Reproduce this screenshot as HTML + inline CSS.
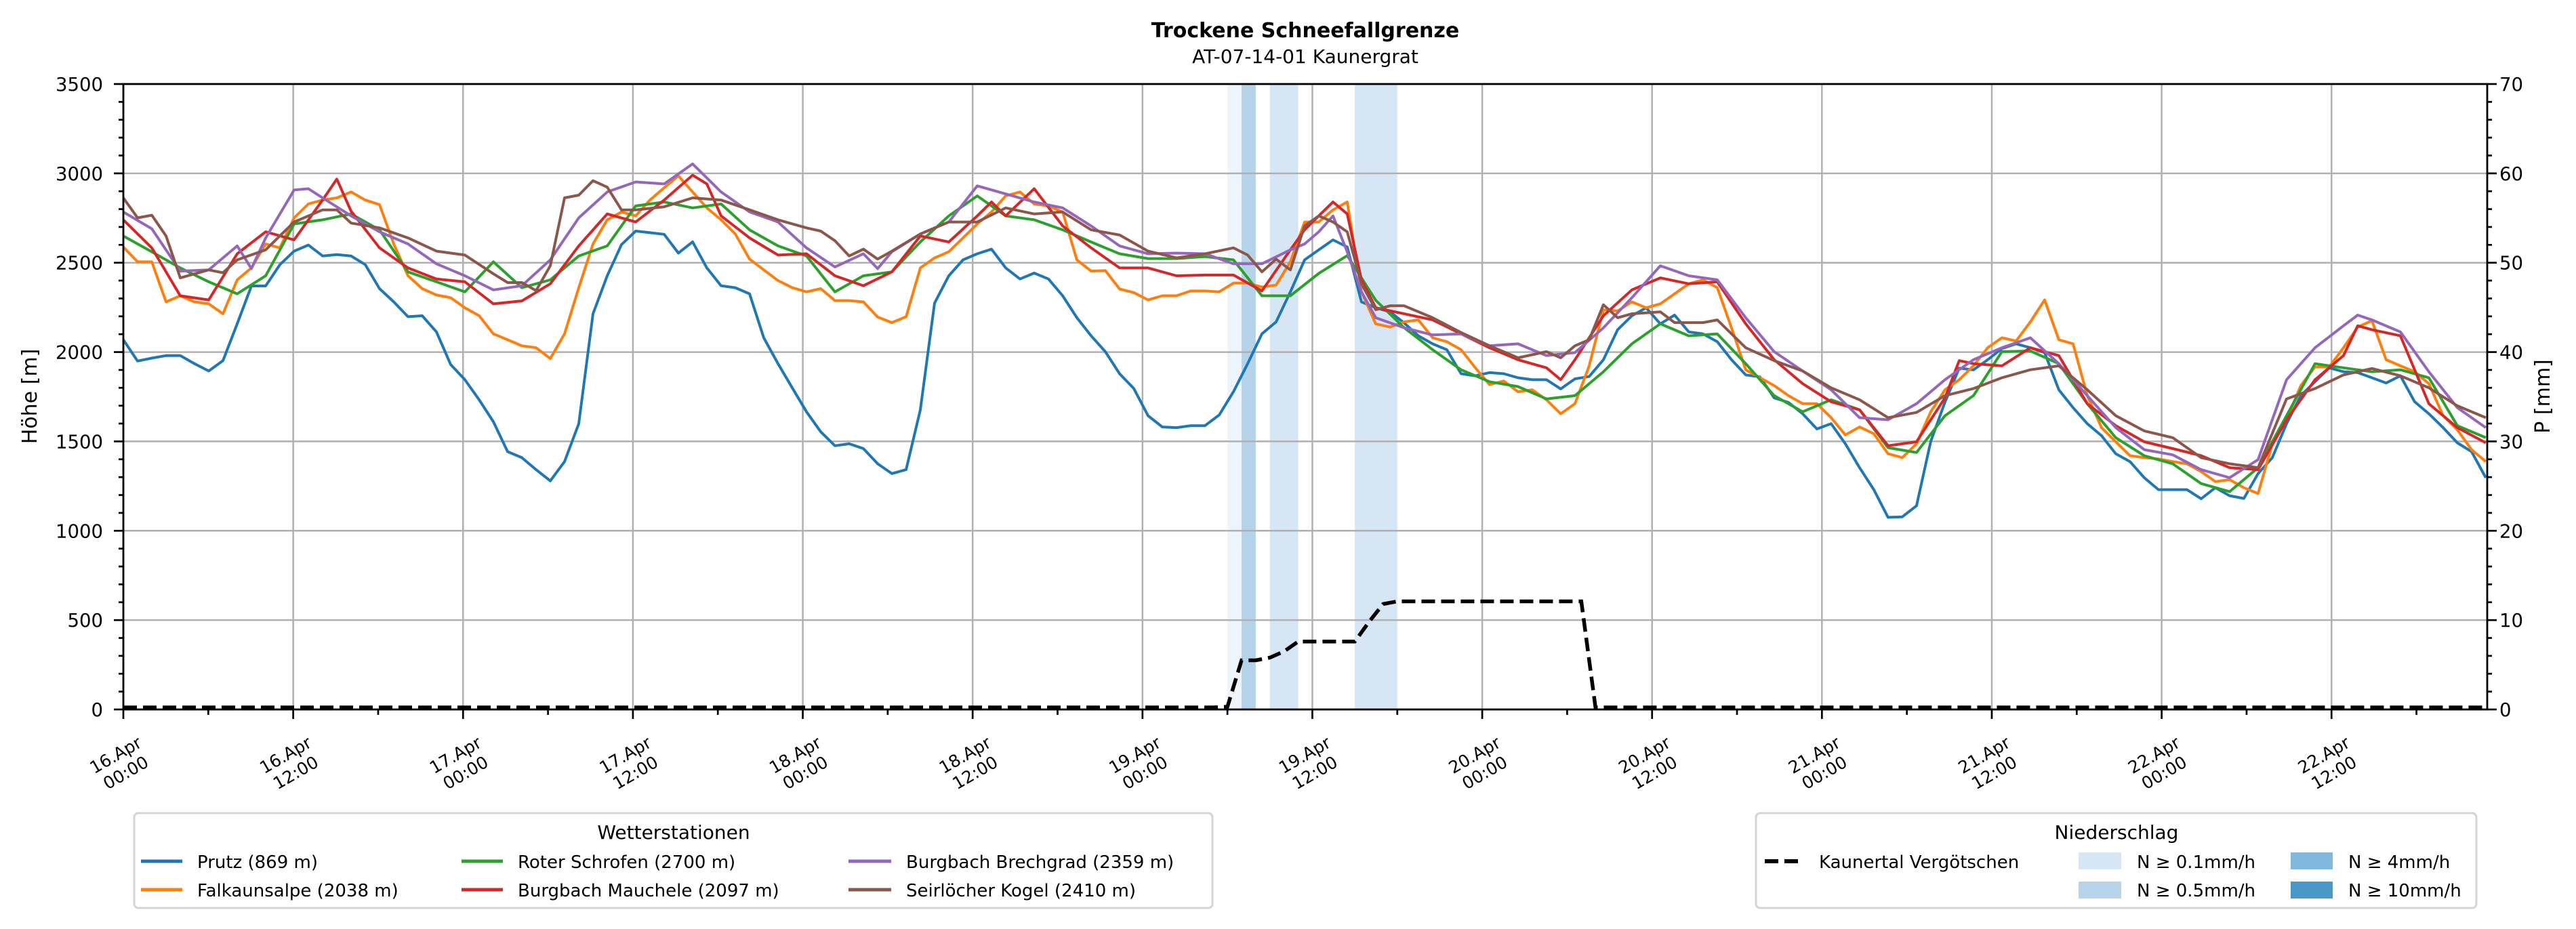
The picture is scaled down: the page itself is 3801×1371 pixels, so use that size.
<!DOCTYPE html>
<html><head><meta charset="utf-8">
<style>
html,body{margin:0;padding:0;background:#fff;}
svg{display:block;font-family:"DejaVu Sans","Liberation Sans",sans-serif;}
</style></head>
<body>
<svg id="chart" xmlns="http://www.w3.org/2000/svg" width="3801" height="1371" viewBox="0 0 3801 1371">
<rect x="0" y="0" width="3801" height="1371" fill="#fff"/>
<text x="1926" y="55" text-anchor="middle" font-size="30" font-weight="bold">Trockene Schneefallgrenze</text>
<text x="1926" y="93" text-anchor="middle" font-size="28">AT-07-14-01 Kaunergrat</text>
<g id="bands"></g>
<g id="grid"></g>
<g id="series"></g>
<g id="precip"></g>
<rect x="182" y="124" width="3488" height="923" fill="none" stroke="#000" stroke-width="2.8"/>
<g id="axes"></g>
<text transform="translate(54,585) rotate(-90)" text-anchor="middle" font-size="30">Höhe [m]</text>
<text transform="translate(3762,585) rotate(-90)" text-anchor="middle" font-size="30">P [mm]</text>

<g>
<rect x="198" y="1200" width="1591" height="140" rx="6" fill="#fff" stroke="#d4d4d4" stroke-width="3"/>
<text x="994" y="1238" text-anchor="middle" font-size="28">Wetterstationen</text>
<g font-size="26">
<line x1="208" y1="1271" x2="269" y2="1271" stroke="#1f77b4" stroke-width="5"/>
<text x="291" y="1281">Prutz (869 m)</text>
<line x1="208" y1="1313" x2="269" y2="1313" stroke="#ff7f0e" stroke-width="5"/>
<text x="291" y="1323">Falkaunsalpe (2038 m)</text>
<line x1="681" y1="1271" x2="742" y2="1271" stroke="#2ca02c" stroke-width="5"/>
<text x="764" y="1281">Roter Schrofen (2700 m)</text>
<line x1="681" y1="1313" x2="742" y2="1313" stroke="#d62728" stroke-width="5"/>
<text x="764" y="1323">Burgbach Mauchele (2097 m)</text>
<line x1="1252" y1="1271" x2="1315" y2="1271" stroke="#9467bd" stroke-width="5"/>
<text x="1337" y="1281">Burgbach Brechgrad (2359 m)</text>
<line x1="1252" y1="1313" x2="1315" y2="1313" stroke="#8c564b" stroke-width="5"/>
<text x="1337" y="1323">Seirlöcher Kogel (2410 m)</text>
</g>
</g>

<g>
<rect x="2591" y="1200" width="1063" height="140" rx="6" fill="#fff" stroke="#d4d4d4" stroke-width="3"/>
<text x="3123" y="1238" text-anchor="middle" font-size="28">Niederschlag</text>
<g font-size="26">
<line x1="2604" y1="1271" x2="2661" y2="1271" stroke="#000" stroke-width="6" stroke-dasharray="20,9"/>
<text x="2684" y="1281">Kaunertal Vergötschen</text>
<rect x="3067" y="1258" width="63" height="25" fill="#d6e6f4"/>
<text x="3153" y="1281">N ≥ 0.1mm/h</text>
<rect x="3067" y="1301" width="63" height="25" fill="#b7d4ea"/>
<text x="3153" y="1323">N ≥ 0.5mm/h</text>
<rect x="3380" y="1258" width="62" height="25" fill="#7fb8da"/>
<text x="3465" y="1281">N ≥ 4mm/h</text>
<rect x="3380" y="1301" width="62" height="25" fill="#4a98c9"/>
<text x="3465" y="1323">N ≥ 10mm/h</text>
</g>
</g>
</svg>
<script>
// ---- data ----
const prutzValues = [2069,1950,1966,1980,1980,1935,1894,1952,2158,2370,
2370,2489,2565,2599,2538,2545,2538,2489,2355,2281,
2198,2203,2113,1930,1845,1733,1610,1443,1409,1342,
1279,1387,1599,2214,2427,2601,2677,2668,2659,2554,
2617,2471,2371,2360,2326,2080,1935,1800,1666,1554,
1476,1487,1460,1375,1320,1342,1677,2274,2427,2516,
2550,2576,2471,2409,2442,2409,2315,2192,2091,2002,
1879,1796,1644,1581,1577,1588,1588,1648,1778,1935,
2102,2169,2337,2516,2572,2628,2588,2281,2248,2225,
2163,2091,2046,2013,1879,1867,1885,1879,1856,1845,
1845,1794,1850,1863,1957,2125,2203,2248,2158,2207,
2113,2102,2058,1957,1872,1861,1744,1718,1655,1570,
1599,1487,1353,1230,1075,1078,1140,1500,1720,1910,
1900,1957,2020,2046,2024,1997,1789,1689,1599,1532,
1431,1387,1297,1230,1230,1230,1179,1241,1196,1181,
1320,1409,1599,1756,1834,1912,1890,1885,1856,1827,
1867,1722,1655,1577,1492,1443,1297];
const falkValues = [2588,2505,2505,2281,2315,2281,2270,2214,2404,2471,
2605,2583,2751,2829,2851,2863,2896,2851,2825,2605,
2427,2355,2319,2304,2248,2203,2102,2069,2035,2024,
1964,2102,2360,2605,2740,2784,2762,2851,2919,2986,
2896,2807,2740,2661,2520,2460,2400,2360,2337,2355,
2288,2288,2281,2196,2165,2198,2471,2527,2561,2639,
2717,2784,2874,2896,2829,2818,2784,2516,2453,2456,
2353,2333,2292,2315,2315,2342,2342,2337,2386,2386,
2364,2375,2505,2728,2728,2796,2840,2337,2158,2140,
2169,2180,2080,2058,2013,1912,1818,1838,1778,1789,
1733,1655,1711,1923,2236,2230,2281,2248,2270,2326,
2382,2404,2360,2136,1901,1856,1812,1756,1711,1711,
1633,1536,1581,1543,1431,1409,1487,1666,1789,1845,
1923,2024,2080,2062,2169,2292,2069,2046,1756,1577,
1498,1420,1409,1402,1387,1375,1331,1275,1286,1241,
1208,1487,1621,1812,1917,1917,2024,2140,2176,1957,
1923,1890,1823,1644,1565,1454,1387];
const roterValues = [2650,2561,2471,2393,2326,2427,2717,2740,2773,2684,
2449,2393,2337,2505,2360,2404,2538,2594,2818,2840,
2807,2829,2684,2594,2538,2337,2427,2449,2616,2762,
2874,2762,2740,2684,2616,2550,2523,2523,2534,2516,
2315,2315,2440,2540,2290,2136,2013,1901,1834,1807,
1738,1756,1890,2046,2158,2091,2102,1935,1756,1666,
1733,1677,1465,1438,1644,1756,2002,2006,1935,1711,
1521,1420,1375,1264,1219,1353,1644,1935,1912,1890,
1901,1856,1588,1521];
const mauHours = [0,2,4,6,8,10,12,14,15,16,18,20,22,24,26,28,30,32,34,36,38,40,41,42,44,46,48,50,52,54,56,58,60,61,62,64,66,68,70,72,74,76,78,80,82,83,84,85,86,87,88,90,92,94,96,98,100,101,102,104,106,108,110,112,114,116,118,120,122,124,126,128,129,130,132,134,136,138,140,142,144,146,148,150,152,154,156,157,158,160,162,164,166];
const mauValues = [2740,2583,2315,2292,2550,2673,2628,2851,2968,2789,2583,2471,2409,2393,2270,2286,2382,2594,2773,2728,2851,2990,2941,2762,2639,2543,2550,2427,2371,2449,2650,2616,2762,2840,2762,2914,2706,2583,2471,2471,2427,2431,2431,2342,2572,2684,2762,2840,2773,2404,2248,2214,2180,2102,2024,1957,1912,1845,1957,2203,2348,2415,2382,2393,2158,1957,1823,1722,1677,1476,1498,1744,1952,1935,1923,2024,1980,1711,1588,1498,1460,1420,1353,1342,1621,1845,1980,2147,2125,2091,1711,1577,1492];
const brechHours = [0,2,4,6,8,9,10,12,13,14,16,18,20,22,24,26,28,30,32,34,36,38,40,42,44,46,48,50,52,53,54,56,58,60,62,64,66,68,70,72,74,76,78,80,82,83,84,85,86,87,88,90,92,94,96,98,100,102,104,106,108,110,112,114,116,118,120,122,124,126,128,130,132,134,136,138,140,142,144,146,148,150,152,154,156,157,158,160,162,164,166];
const brechValues = [2784,2690,2453,2460,2594,2467,2639,2907,2914,2863,2762,2673,2605,2494,2427,2348,2371,2516,2751,2896,2952,2941,3053,2896,2784,2728,2583,2476,2550,2467,2561,2661,2728,2930,2885,2840,2807,2706,2594,2550,2554,2550,2494,2494,2572,2605,2673,2762,2561,2337,2192,2136,2096,2102,2035,2046,1980,1997,2136,2304,2483,2427,2404,2192,2002,1894,1789,1633,1621,1711,1845,1957,2024,2080,1935,1756,1577,1454,1425,1342,1297,1398,1845,2024,2147,2207,2180,2113,1890,1689,1577];
const kogelHours = [0,1,2,3,4,6,7,8,10,12,14,15,16,18,20,22,24,26,27,28,29,30,31,32,33,34,35,36,38,40,42,44,46,48,49,50,51,52,53,54,56,58,60,62,64,66,68,70,72,74,76,78,79,80,81,82,83,84,85,86,87,88,89,90,92,94,96,98,100,101,102,103,104,105,106,108,109,111,112,114,116,118,120,122,124,126,128,130,132,134,136,138,140,142,144,146,148,150,152,154,156,158,160,162,164,166];
const kogelValues = [2863,2751,2766,2650,2415,2460,2444,2516,2572,2728,2796,2796,2722,2695,2639,2565,2543,2438,2389,2389,2344,2483,2863,2878,2959,2923,2796,2796,2813,2863,2851,2796,2740,2695,2677,2623,2538,2576,2520,2565,2661,2728,2728,2807,2773,2784,2684,2655,2565,2527,2550,2583,2543,2449,2520,2460,2706,2762,2728,2673,2382,2237,2259,2259,2192,2109,2035,1968,2002,1968,2035,2069,2265,2192,2214,2225,2165,2165,2180,2024,1952,1894,1800,1733,1633,1662,1756,1796,1856,1901,1923,1789,1644,1559,1521,1409,1375,1353,1738,1796,1872,1908,1867,1800,1699,1633];
const precipHours = [0,77,78,79,80,81,82,83,87,88,89,90,103,104,167];
const precipValues = [0,0,0.3,5.5,5.5,5.8,6.5,7.6,7.6,9.8,11.8,12.1,12.1,0,0];
const bandStart = [78,79,81,87];
const bandEnd = [79,80,83,90];
const bandClass = [0,2,1,1];
const bandColors = ['#eef4fb','#d6e6f4','#b5d4e9'];
const xTickHours = [0,12,24,36,48,60,72,84,96,108,120,132,144,156];
const xTickDay = ['16.Apr','16.Apr','17.Apr','17.Apr','18.Apr','18.Apr','19.Apr','19.Apr','20.Apr','20.Apr','21.Apr','21.Apr','22.Apr','22.Apr'];
const xTickTime = ['00:00','12:00','00:00','12:00','00:00','12:00','00:00','12:00','00:00','12:00','00:00','12:00','00:00','12:00'];
const yTicks = [0,500,1000,1500,2000,2500,3000,3500];
const y2Ticks = [0,10,20,30,40,50,60,70];
// station-series hours were read on a 166.1-unit scale; convert to real hours
const READ_SCALE = 167/166.1;

// ---- axes ----
const L=182,R=3670,T=124,B=1047;
const X_MAX=167;
const xs = h => L + h/X_MAX*(R-L);
const ys = v => B - v/3500*(B-T);
const yp = p => B - p/70*(B-T);
const NS='http://www.w3.org/2000/svg';
function mk(tag, attrs, parent){const e=document.createElementNS(NS,tag);for(const k in attrs)e.setAttribute(k,attrs[k]);parent.appendChild(e);return e;}
const gBands=document.getElementById('bands'),gGrid=document.getElementById('grid'),gSer=document.getElementById('series'),gPre=document.getElementById('precip'),gAx=document.getElementById('axes');

bandStart.forEach((s,i)=>{
  const r=mk('rect',{x:xs(s),y:T,width:xs(bandEnd[i])-xs(s),height:B-T,fill:bandColors[bandClass[i]]},gBands);
  
  
});
xTickHours.forEach(h=>{
  const l=mk('line',{x1:xs(h),x2:xs(h),y1:T,y2:B,stroke:'#b0b0b0','stroke-width':2.5},gGrid);
  
  
});
yTicks.forEach(v=>{
  const l=mk('line',{x1:L,x2:R,y1:ys(v),y2:ys(v),stroke:'#b0b0b0','stroke-width':2.5},gGrid);
  
  
});

function drawLine(hours, vals, color, name){
  const d=vals.map((v,i)=>(i?'L':'M')+xs(hours[i]*READ_SCALE).toFixed(1)+','+ys(v).toFixed(1)).join('');
  const p=mk('path',{d:d,fill:'none',stroke:color,'stroke-width':4,'stroke-linejoin':'round'},gSer);
  
  
}
const hourly = n => Array.from({length:n},(_,i)=>i);
const twoHourly = n => Array.from({length:n},(_,i)=>i*2);
drawLine(hourly(prutzValues.length), prutzValues, '#1f77b4', 'line-prutz');
drawLine(hourly(falkValues.length), falkValues, '#ff7f0e', 'line-falkaunsalpe');
drawLine(twoHourly(roterValues.length), roterValues, '#2ca02c', 'line-roter-schrofen');
drawLine(mauHours, mauValues, '#d62728', 'line-burgbach-mauchele');
drawLine(brechHours, brechValues, '#9467bd', 'line-burgbach-brechgrad');
drawLine(kogelHours, kogelValues, '#8c564b', 'line-seirloecher-kogel');

const pd=precipValues.map((p,i)=>(i?'L':'M')+xs(precipHours[i]).toFixed(1)+','+(yp(p)-(p===0?3:0)).toFixed(1)).join('');
const pl=mk('path',{d:pd,fill:'none',stroke:'#000','stroke-width':5.5,'stroke-dasharray':'20,9'},gPre);



// ticks
for(let h=0;h<=X_MAX;h+=6){
  const major=h%12===0;
  const t=mk('line',{x1:xs(h),x2:xs(h),y1:B,y2:B+(major?14:8),stroke:'#000','stroke-width':2.7},gAx);
  
  
}
xTickHours.forEach((h,i)=>{
  const g=mk('g',{transform:'translate('+(xs(h)-4)+',1127) rotate(-30)','font-size':25,'text-anchor':'middle'},gAx);
  
  
  const a=mk('text',{x:0,y:-6},g);a.textContent=xTickDay[i];
  const b=mk('text',{x:0,y:24},g);b.textContent=xTickTime[i];
});
for(let v=0;v<=3500;v+=100){
  const major=v%500===0;
  const t=mk('line',{x1:L-(major?14:7),x2:L,y1:ys(v),y2:ys(v),stroke:'#000','stroke-width':2.7},gAx);
  
  
}
yTicks.forEach(v=>{
  const t=mk('text',{x:152,y:ys(v)+10,'text-anchor':'end','font-size':27.5},gAx);
  t.textContent=v;
  
  
});
for(let p=0;p<=70;p+=2){
  const major=p%10===0;
  const t=mk('line',{x1:R,x2:R+(major?14:7),y1:yp(p),y2:yp(p),stroke:'#000','stroke-width':2.7},gAx);
  
  
}
y2Ticks.forEach(p=>{
  const t=mk('text',{x:3688,y:yp(p)+10,'text-anchor':'start','font-size':27.5},gAx);
  t.textContent=p;
  
  
});
</script>
</body></html>
